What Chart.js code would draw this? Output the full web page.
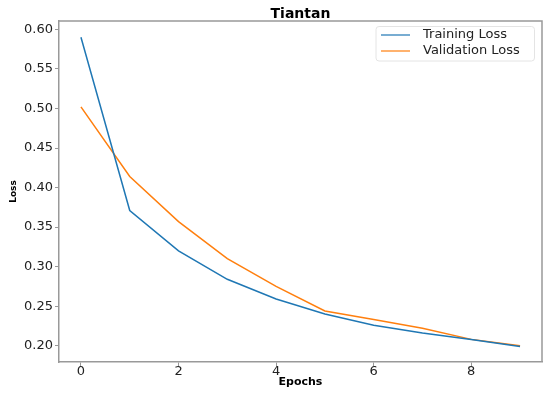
<!DOCTYPE html>
<html>
<head>
<meta charset="utf-8">
<script src="https://cdn.jsdelivr.net/npm/chart.js@4.4.1/dist/chart.umd.min.js"></script>
<style>
  html, body { margin: 0; padding: 0; background: #ffffff; }
  #wrap { width: 550px; height: 394px; }
</style>
</head>
<body>
<div id="wrap"><canvas id="c" width="550" height="394"></canvas></div>
<script>
const chartTitle = "Tiantan";
const xAxisLabel = "Epochs";
const yAxisLabel = "Loss";
const epochs = [0, 1, 2, 3, 4, 5, 6, 7, 8, 9];
const trainingLoss = [0.590, 0.371, 0.320, 0.284, 0.259, 0.240, 0.226, 0.216, 0.208, 0.199];
const validationLoss = [0.502, 0.414, 0.357, 0.310, 0.275, 0.244, 0.233, 0.222, 0.208, 0.200];
const seriesNames = ["Training Loss", "Validation Loss"];
const xTickValues = [0, 2, 4, 6, 8];
const yTickValues = [0.20, 0.25, 0.30, 0.35, 0.40, 0.45, 0.50, 0.55, 0.60];

const FONT = "'DejaVu Sans', 'Liberation Sans', sans-serif";
const SPINE = '#999999';

const frameAndLegend = {
  id: 'frameAndLegend',
  afterDatasetsDraw(chart) {
    const { ctx, chartArea: a } = chart;
    ctx.save();
    // top & right spines
    ctx.strokeStyle = SPINE;
    ctx.lineWidth = 1.5;
    ctx.beginPath();
    ctx.moveTo(a.left, a.top);
    ctx.lineTo(a.right, a.top);
    ctx.lineTo(a.right, a.bottom);
    ctx.stroke();

    // legend frame
    const bx = a.right - 166, by = a.top + 5.5, bw = 158.5, bh = 34.5, r = 3;
    ctx.beginPath();
    ctx.moveTo(bx + r, by);
    ctx.lineTo(bx + bw - r, by);
    ctx.quadraticCurveTo(bx + bw, by, bx + bw, by + r);
    ctx.lineTo(bx + bw, by + bh - r);
    ctx.quadraticCurveTo(bx + bw, by + bh, bx + bw - r, by + bh);
    ctx.lineTo(bx + r, by + bh);
    ctx.quadraticCurveTo(bx, by + bh, bx, by + bh - r);
    ctx.lineTo(bx, by + r);
    ctx.quadraticCurveTo(bx, by, bx + r, by);
    ctx.closePath();
    ctx.fillStyle = 'rgba(255,255,255,0.8)';
    ctx.fill();
    ctx.strokeStyle = '#e4e4e4';
    ctx.lineWidth = 1;
    ctx.stroke();

    // legend items
    ctx.font = "13px " + FONT;
    ctx.textBaseline = 'middle';
    ctx.textAlign = 'left';
    chart.data.datasets.forEach((ds, i) => {
      const y = by + 8.5 + i * 16;
      ctx.strokeStyle = ds.borderColor;
      ctx.globalAlpha = 0.8;
      ctx.lineWidth = 1.5;
      ctx.beginPath();
      ctx.moveTo(bx + 5, y);
      ctx.lineTo(bx + 34, y);
      ctx.stroke();
      ctx.globalAlpha = 1;
      ctx.fillStyle = '#222222';
      ctx.fillText(ds.label, bx + 47, y);
    });
    ctx.restore();
  }
};

new Chart(document.getElementById('c'), {
  type: 'line',
  data: {
    datasets: [
      {
        label: seriesNames[0],
        data: epochs.map((e, i) => ({ x: e, y: trainingLoss[i] })),
        borderColor: '#1f77b4',
        backgroundColor: '#1f77b4',
        borderWidth: 1.5,
        pointRadius: 0,
        tension: 0,
        fill: false
      },
      {
        label: seriesNames[1],
        data: epochs.map((e, i) => ({ x: e, y: validationLoss[i] })),
        borderColor: '#ff7f0e',
        backgroundColor: '#ff7f0e',
        borderWidth: 1.5,
        pointRadius: 0,
        tension: 0,
        fill: false
      }
    ]
  },
  options: {
    responsive: false,
    animation: false,
    devicePixelRatio: 1,
    layout: { padding: { left: 0, right: 8, top: 0, bottom: 0 } },
    plugins: {
      legend: { display: false },
      tooltip: { enabled: false },
      title: {
        display: true,
        text: chartTitle,
        fullSize: false,
        color: '#000000',
        font: { family: FONT, size: 14, weight: 'bold', lineHeight: 1 },
        padding: { top: 7, bottom: 0 }
      }
    },
    scales: {
      x: {
        type: 'linear',
        min: -0.45,
        max: 9.45,
        afterBuildTicks: (s) => { s.ticks = xTickValues.map(v => ({ value: v })); },
        afterFit: (s) => { s.height = 32; },
        grid: { display: true, drawOnChartArea: false, drawTicks: true, tickLength: 4, color: SPINE, tickWidth: 1 },
        border: { display: true, color: SPINE, width: 1.5 },
        ticks: {
          color: '#222222',
          font: { family: FONT, size: 13 },
          padding: -2,
          maxRotation: 0,
          callback: (v) => String(v)
        },
        title: {
          display: true,
          text: xAxisLabel,
          color: '#000000',
          font: { family: FONT, size: 11, weight: 'bold' },
          padding: { top: 0, bottom: 5 }
        }
      },
      y: {
        type: 'linear',
        min: 0.1794,
        max: 0.6106,
        afterBuildTicks: (s) => { s.ticks = yTickValues.map(v => ({ value: v })); },
        afterFit: (s) => { s.width = 59; },
        grid: { display: true, drawOnChartArea: false, drawTicks: true, tickLength: 4, color: SPINE, tickWidth: 1 },
        border: { display: true, color: SPINE, width: 1.5 },
        ticks: {
          color: '#222222',
          font: { family: FONT, size: 13 },
          padding: 2,
          callback: (v) => Number(v).toFixed(2)
        },
        title: {
          display: true,
          text: yAxisLabel,
          color: '#000000',
          font: { family: FONT, size: 9, weight: 'bold' },
          padding: { top: 8, bottom: 0 }
        }
      }
    }
  },
  plugins: [frameAndLegend]
});
</script>
</body>
</html>
